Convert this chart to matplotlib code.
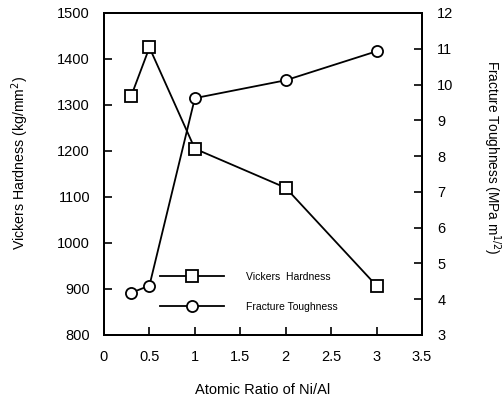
import matplotlib
matplotlib.use("Agg")
import matplotlib.pyplot as plt
from matplotlib.lines import Line2D

plt.rcParams['font.family'] = ['Liberation Sans', 'DejaVu Sans']

ratio = [0.3, 0.5, 1.0, 2.0, 3.0]
hardness = [1320, 1425, 1205, 1120, 907]
toughness = [4.18, 4.38, 9.62, 10.12, 10.93]

xticks = [0, 0.5, 1, 1.5, 2, 2.5, 3, 3.5]
xticklabels = ["0", "0.5", "1", "1.5", "2", "2.5", "3", "3.5"]
lticks = [800, 900, 1000, 1100, 1200, 1300, 1400, 1500]
rticks = [3, 4, 5, 6, 7, 8, 9, 10, 11, 12]

fig = plt.figure(figsize=(5.03, 4.04), dpi=100)
ax = fig.add_axes([104/503, 1-335/404, (422-104)/503, (335-13)/404])
ax2 = ax.twinx()

ax.plot(ratio, hardness, color='black', lw=1.3, marker='s', ms=8,
        mfc='white', mec='black', mew=1.3, zorder=3)
ax2.plot(ratio, toughness, color='black', lw=1.3, marker='o', ms=8,
         mfc='white', mec='black', mew=1.3, zorder=3)

ax.set_xlim(0, 3.5)
ax.set_ylim(800, 1500)
ax2.set_ylim(3, 12)
ax.set_xticks(xticks)
ax.set_xticklabels(xticklabels)
ax.set_yticks(lticks)
ax2.set_yticks(rticks)

for a in (ax, ax2):
    for s in a.spines.values():
        s.set_linewidth(1.4)
ax.tick_params(axis='both', direction='in', length=6, width=1.2, labelsize=10.5)
ax.tick_params(axis='y', pad=10)
ax.tick_params(axis='x', pad=11)
ax2.tick_params(axis='y', direction='in', length=6, width=1.2, labelsize=10.5, pad=11)

ax.set_xlabel("Atomic Ratio of Ni/Al", fontsize=10.5)
ax.xaxis.set_label_coords(0.5, -(390 - 335) / 322)
ax.xaxis.label.set_va('center')
ax.set_ylabel("Vickers Hardness (kg/mm$^2$)", fontsize=10.2)
ax.yaxis.set_label_coords((20 - 104) / 318, (335 - 163) / 322)
ax.yaxis.label.set_va('center')
ax2.set_ylabel("Fracture Toughness (MPa m$^{1/2}$)", fontsize=9.8, rotation=-90)
ax2.yaxis.set_label_coords((492 - 104) / 318, (335 - 157) / 322)
ax2.yaxis.label.set_va('center')
ax2.yaxis.label.set_ha('center')

handles = [
    Line2D([], [], color='black', lw=1.3, marker='s', ms=8, mfc='white', mec='black', mew=1.3),
    Line2D([], [], color='black', lw=1.3, marker='o', ms=8, mfc='white', mec='black', mew=1.3),
]
ax2.legend(handles, ["Vickers  Hardness", "Fracture Toughness"],
           loc='center left', bbox_to_anchor=(160/503, 1-292/404),
           bbox_transform=fig.transFigure, frameon=False, fontsize=7.5,
           handlelength=6.1, handletextpad=2.2, labelspacing=1.9,
           borderpad=0, borderaxespad=0)

fig.savefig("out.png", dpi=100)
